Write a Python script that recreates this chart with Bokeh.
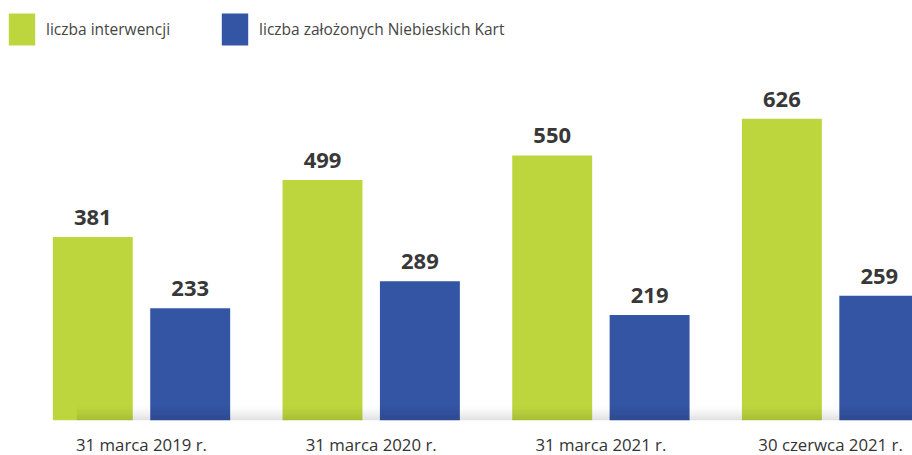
from bokeh.plotting import figure
from bokeh.models import ColumnDataSource, Legend, LegendItem, FixedTicker, Range1d
from bokeh.embed import file_html
from bokeh.resources import INLINE
from bokeh.core.properties import value

categories = ["31 marca 2019 r.", "31 marca 2020 r.", "31 marca 2021 r.", "30 czerwca 2021 r."]
interwencje = [381, 499, 550, 626]
niebieskie_karty = [233, 289, 219, 259]
series_names = ["liczba interwencji", "liczba założonych Niebieskich Kart"]

GREEN = "#BED63E"
BLUE = "#3454A4"
FONT = "Open Sans"

n = len(categories)
xs = list(range(n))
off = 0.212
bw = 0.348

src_g = ColumnDataSource(dict(x=[x - off for x in xs], top=interwencje,
                              lab=[str(v) for v in interwencje]))
src_b = ColumnDataSource(dict(x=[x + off for x in xs], top=niebieskie_karty,
                              lab=[str(v) for v in niebieskie_karty]))

x_start = -0.579
x_end = x_start + 904 / 229.7

p = figure(frame_width=904, frame_height=412, output_backend="svg", toolbar_location=None,
           x_range=Range1d(x_start, x_end), y_range=Range1d(0, 855),
           min_border_left=8, min_border_right=0, min_border_top=8, min_border_bottom=0)
p.outline_line_color = None
p.background_fill_color = "white"
p.border_fill_color = "white"
p.grid.visible = False
p.yaxis.visible = False

rg = p.vbar(x="x", top="top", width=bw, source=src_g, fill_color=GREEN, line_color=None)
rb = p.vbar(x="x", top="top", width=bw, source=src_b, fill_color=BLUE, line_color=None)

# soft shadow along the baseline
steps = 10
sh = 32.0
for i in range(steps):
    y0 = sh * i / steps
    y1 = sh * (i + 1) / steps
    a = 0.12 * (1 - i / steps) ** 1.5
    p.quad(left=[xs[0] - off - 0.07], right=[x_end + 1], bottom=[y0], top=[y1],
           fill_color="black", fill_alpha=a, line_color=None)

for src in (src_g, src_b):
    p.text(x="x", y="top", text="lab", source=src, text_align="center",
           text_baseline="bottom", y_offset=-12, text_font=value(FONT),
           text_font_style="bold", text_font_size="22px", text_color="#383838")

p.xaxis.ticker = FixedTicker(ticks=xs)
p.xaxis.major_label_overrides = {i: c for i, c in enumerate(categories)}
p.xaxis.axis_line_color = None
p.xaxis.major_tick_line_color = None
p.xaxis.minor_tick_line_color = None
p.xaxis.major_label_standoff = 6
p.xaxis.major_label_text_font = FONT
p.xaxis.major_label_text_font_size = "16.8px"
p.xaxis.major_label_text_color = "#333333"

legend = Legend(items=[LegendItem(label=series_names[0], renderers=[rg]),
                       LegendItem(label=series_names[1], renderers=[rb])],
                orientation="horizontal", location=(-3, 371),
                glyph_width=33, glyph_height=40, label_standoff=8, spacing=48,
                padding=0, margin=0, border_line_color=None, background_fill_alpha=0,
                label_text_font=FONT, label_text_font_size="15.5px",
                label_text_color="#454545", label_height=40)
p.add_layout(legend, "center")

open("out.html", "w").write(file_html(p, INLINE))
